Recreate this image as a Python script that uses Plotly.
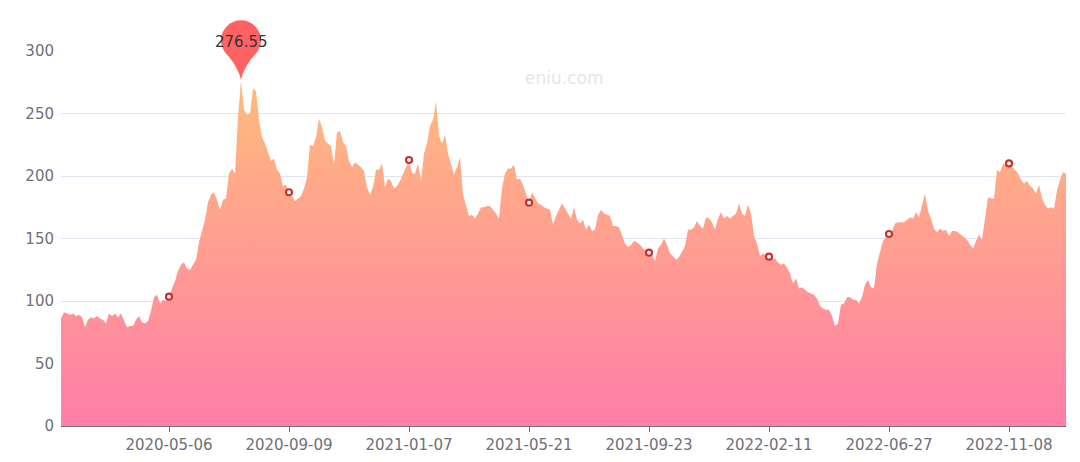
import pandas as pd
import plotly.graph_objects as go

# Labelled dates on the category axis (every 40th sample)
tick_labels = ["2020-05-06", "2020-09-09", "2021-01-07", "2021-05-21",
               "2021-09-23", "2022-02-11", "2022-06-27", "2022-11-08"]
first_tick_index = 36
tick_step = 40

# Series values (one per category)
values = [
    86, 91, 90, 89, 90, 88, 89, 87, 79, 85,
    87, 86, 88, 86, 85, 82, 90, 88, 90, 87,
    90, 85, 79, 80, 80, 85, 88, 83, 82, 84,
    92, 103, 105, 98, 101, 100, 103.5, 110, 116, 124,
    129, 131, 126, 125, 129, 133, 147, 155, 165, 179,
    185, 187, 181, 173, 181, 182, 202, 206, 202, 247,
    276.55, 253, 249, 250, 270, 268, 245, 231, 226, 219,
    212, 214, 205, 202, 192, 193, 187, 184, 180, 182,
    184, 190, 199, 225, 224, 231, 246, 239, 228, 226,
    224, 209, 235, 236, 227, 224, 212, 207, 211, 209,
    207, 204, 191, 185, 191, 205, 205, 210, 191, 198,
    196, 190, 192, 196, 202, 208, 212.8, 202, 202, 210,
    196, 218, 226, 240, 245, 260, 232, 226, 233, 218,
    210, 201, 207, 215, 185, 176, 168, 169, 166, 170,
    175, 175, 176, 176, 173, 170, 166, 190, 202, 206,
    206, 209, 197, 198, 193, 186, 178.7, 187, 183, 178,
    177, 175, 174, 173, 161, 168, 173, 178, 174, 170,
    166, 175, 165, 162, 165, 157, 161, 156, 157, 169,
    173, 170, 169, 168, 160, 160, 159, 152, 146, 143,
    145, 148, 147, 145, 142, 140, 138.7, 137, 132, 142,
    145, 150, 145, 138, 136, 133, 135, 139, 144, 157,
    157, 159, 164, 160, 158, 167, 166, 163, 157, 166,
    171, 166, 168, 166, 168, 170, 178, 170, 168, 177,
    170, 152, 146, 136, 138, 136, 135.5, 134, 134, 131,
    129, 130, 127, 122, 114, 118, 110, 111, 109, 107,
    106, 105, 102, 96, 94, 93, 93, 88, 80, 82,
    97, 98, 103, 103, 101, 101, 98, 103, 113, 117,
    111, 110, 130, 140, 148, 151, 153.6, 156, 162, 163,
    163, 163, 165, 167, 166, 171, 167, 177, 186, 172,
    166, 158, 155, 158, 156, 157, 152, 156, 156, 155,
    153, 151, 149, 145, 142, 148, 153, 149, 167, 183,
    182, 182, 205, 203, 210, 209, 210.1, 208, 205, 202,
    197, 194, 196, 192, 190, 186, 193, 182, 177, 174,
    175, 174, 188, 197, 203, 202,
]

y_ticks = [0, 50, 100, 150, 200, 250, 300]

# Category dates: spread between the labelled dates
n = len(values)
anchor_pos = [first_tick_index + k * tick_step for k in range(len(tick_labels))]
anchor_ts = [pd.Timestamp(d).value for d in tick_labels]
dates = []
for i in range(n):
    if i <= anchor_pos[0]:
        a, b = 0, 1
    elif i >= anchor_pos[-1]:
        a, b = len(anchor_pos) - 2, len(anchor_pos) - 1
    else:
        a = (i - first_tick_index) // tick_step
        b = a + 1
    t = anchor_ts[a] + (anchor_ts[b] - anchor_ts[a]) * (i - anchor_pos[a]) / (anchor_pos[b] - anchor_pos[a])
    dates.append(pd.Timestamp(int(t)).strftime("%Y-%m-%d"))

max_val = max(values)
max_idx = values.index(max_val)
marker_y = [values[dates.index(d)] for d in tick_labels]

FONT = "DejaVu Sans"

fig = go.Figure()
fig.add_trace(go.Scatter(
    x=dates, y=values, mode="lines",
    line=dict(width=0, color="rgb(255,170,140)"),
    fill="tozeroy",
    fillgradient=dict(type="vertical",
                      colorscale=[[0, "rgb(255,126,168)"], [1, "rgb(255,187,124)"]],
                      start=0, stop=max_val),
    hoverinfo="skip", showlegend=False,
))
fig.add_trace(go.Scatter(
    x=tick_labels, y=marker_y, mode="markers",
    marker=dict(symbol="circle", size=6, color="white",
                line=dict(color="#c23531", width=2.2)),
    hoverinfo="skip", showlegend=False, cliponaxis=False,
))

# Pin marking the maximum
pin_path = ("M 0,0 C -0.8,8 -9.1,20.9 -14.14,25.86 "
            "C -21.95,33.67 -21.95,46.33 -14.14,54.14 "
            "C -6.33,61.95 6.33,61.95 14.14,54.14 "
            "C 21.95,46.33 21.95,33.67 14.14,25.86 "
            "C 9.1,20.9 0.8,8 0,0 Z")
fig.add_shape(type="path", path=pin_path,
              xref="paper", yref="paper",
              xsizemode="pixel", ysizemode="pixel",
              xanchor=max_idx / (n - 1), yanchor=max_val / y_ticks[-1],
              fillcolor="#ff6262", line=dict(width=0), layer="above")
fig.add_annotation(x=dates[max_idx], y=max_val, text=f"{max_val:.2f}",
                   showarrow=False, yshift=38, xanchor="center", yanchor="middle",
                   font=dict(family=FONT, size=15, color="#333333"))

fig.add_annotation(x=0.5, y=0.928, xref="paper", yref="paper", text="eniu.com",
                   showarrow=False, xanchor="center", yanchor="middle",
                   font=dict(family=FONT, size=17, color="#e6e6e6"))

# Page body has an 8px margin, so the figure is drawn 8px smaller
fig.update_layout(
    width=1072, height=454,
    margin=dict(l=53, r=14, t=43, b=36),
    paper_bgcolor="white", plot_bgcolor="white",
    font=dict(family=FONT, size=15, color="#6e7079"),
    xaxis=dict(type="category", range=[0, n - 1], automargin=False,
               tickmode="array", tickvals=tick_labels, ticktext=tick_labels,
               showgrid=False, showline=True, linecolor="#6e7079", linewidth=1,
               ticks="outside", ticklen=5, tickcolor="#6e7079",
               tickfont=dict(size=15, color="#6e7079"), zeroline=False),
    yaxis=dict(range=[0, 300], tickvals=y_ticks, showgrid=True, automargin=False,
               gridcolor="#E0E6F1", gridwidth=1, zeroline=False,
               showline=False, ticks="", ticklabelstandoff=6,
               tickfont=dict(size=15, color="#6e7079")),
)

fig.write_html("out.html")
